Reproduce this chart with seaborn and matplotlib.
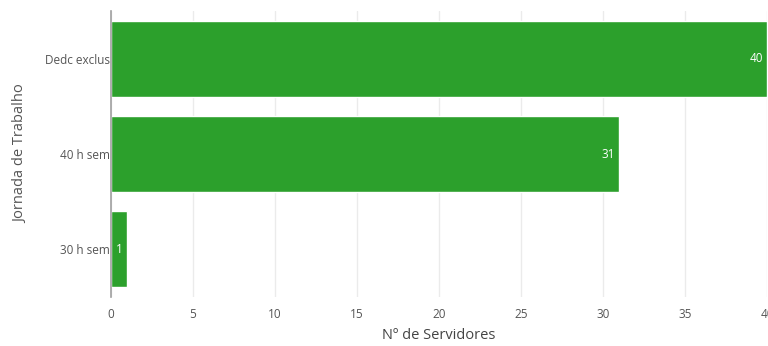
import matplotlib
matplotlib.use("Agg")
import matplotlib.pyplot as plt
import seaborn as sns
import pandas as pd

jornadas = ["Dedc exclus", "40 h sem", "30 h sem"]
servidores = [40, 31, 1]
x_ticks = [0, 5, 10, 15, 20, 25, 30, 35, 40]

sns.set_theme(style="white")
plt.rcParams["font.family"] = ["Open Sans", "DejaVu Sans"]

df = pd.DataFrame({"jornada": jornadas, "servidores": servidores})

fig = plt.figure(figsize=(7.68, 3.46), dpi=100)
ax = fig.add_axes([111 / 768, 1 - 297 / 346, 656 / 768, 286 / 346])

sns.barplot(data=df, x="servidores", y="jornada", orient="h",
            color="#2ca02c", saturation=1, width=0.8, ax=ax, zorder=2)

ax.set_xlim(0, 40)
ax.set_ylim(2.5, -0.5)
ax.set_xticks(x_ticks)
ax.set_xticklabels([str(t) for t in x_ticks])
ax.xaxis.grid(True, color="#ebebeb", linewidth=1, zorder=0)
ax.set_axisbelow(True)

for s in ["top", "right", "bottom"]:
    ax.spines[s].set_visible(False)
ax.spines["left"].set_color("#a0a0a0")
ax.spines["left"].set_linewidth(1.2)

ax.tick_params(axis="both", length=0, labelsize=8.5, labelcolor="#555555")
ax.tick_params(axis="x", pad=8)
ax.tick_params(axis="y", pad=1)

ax.set_xlabel("Nº de Servidores", fontsize=10.5, color="#444444", labelpad=5)
ax.set_ylabel("Jornada de Trabalho", fontsize=10.5, color="#555555", labelpad=12)

# value labels inside the end of each bar
for i, v in enumerate(servidores):
    ax.annotate(str(v), xy=(v, i), xytext=(-3, 0), textcoords="offset points",
                ha="right", va="center", color="white", fontsize=8.5)

fig.savefig("out.png", dpi=100)
